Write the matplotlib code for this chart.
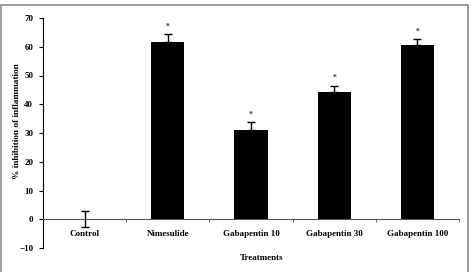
import numpy as np
import matplotlib
matplotlib.use("Agg")
import matplotlib.pyplot as plt
from matplotlib.patches import Rectangle

# Data
treatments = ["Control", "Nimesulide", "Gabapentin 10", "Gabapentin 30", "Gabapentin 100"]
inhibition = [0.0, 61.7, 31.2, 44.3, 60.6]
sem = [2.8, 2.7, 2.5, 2.2, 2.0]
significant = [False, True, True, True, True]
yticks = [-10, 0, 10, 20, 30, 40, 50, 60, 70]

plt.rcParams["font.family"] = ["Liberation Serif", "DejaVu Serif"]
plt.rcParams["font.weight"] = "bold"

W, H = 471, 272
fig = plt.figure(figsize=(W / 100, H / 100), dpi=100)

# gray frame around the chart area
fig.patches.append(Rectangle((1 / W, -0.05), 467 / W, 1.05 - 5 / H,
                             transform=fig.transFigure, fill=False,
                             edgecolor="#8a8a8a", linewidth=1.2))

ax = fig.add_axes([43 / W, 1 - 248 / H, 416 / W, 230 / H])
x = np.arange(len(treatments))

ax.bar(x, inhibition, width=0.4, color="black", zorder=2)

# Control gets a two-sided bar, the rest only the upper half
lower = [s if v == 0 else 0 for v, s in zip(inhibition, sem)]
ax.errorbar(x, inhibition, yerr=[lower, sem], fmt="none", ecolor="black",
            elinewidth=1.0, capsize=3, capthick=1.0, zorder=3)

for xi, v, s, sig in zip(x, inhibition, sem, significant):
    if sig:
        ax.text(xi, v + s + 1.2, "*", ha="center", va="bottom", fontsize=5.5,
                color="#333333")

ax.set_xlim(-0.5, len(treatments) - 0.5)
ax.set_ylim(-10, 70)
ax.set_yticks(yticks)
ax.tick_params(axis="y", labelsize=6.5, length=3, width=0.8, pad=4)

# x axis runs along zero, ticks at category boundaries
ax.spines["bottom"].set_position(("data", 0))
ax.spines["top"].set_visible(False)
ax.spines["right"].set_visible(False)
ax.spines["left"].set_linewidth(0.8)
ax.spines["bottom"].set_linewidth(0.8)
ax.spines["bottom"].set_color("#555555")
ax.set_xticks(np.arange(-0.5, len(treatments), 1.0))
ax.set_xticklabels([])
ax.tick_params(axis="x", which="major", length=2.5, width=0.6, color="#555555")
ax.set_xticks(x, minor=True)
ax.set_xticklabels(treatments, minor=True)
ax.tick_params(axis="x", which="minor", length=0, pad=8, labelsize=6.5)

fig.text(17 / W, 1 - 121 / H, "% inhibition of inflammation", rotation=90,
         ha="center", va="center", fontsize=6.7, fontweight="bold")
fig.text(262 / W, 1 - 258 / H, "Treatments", ha="center", va="center",
         fontsize=6.5, fontweight="bold")

fig.savefig("out.png", dpi=100)
